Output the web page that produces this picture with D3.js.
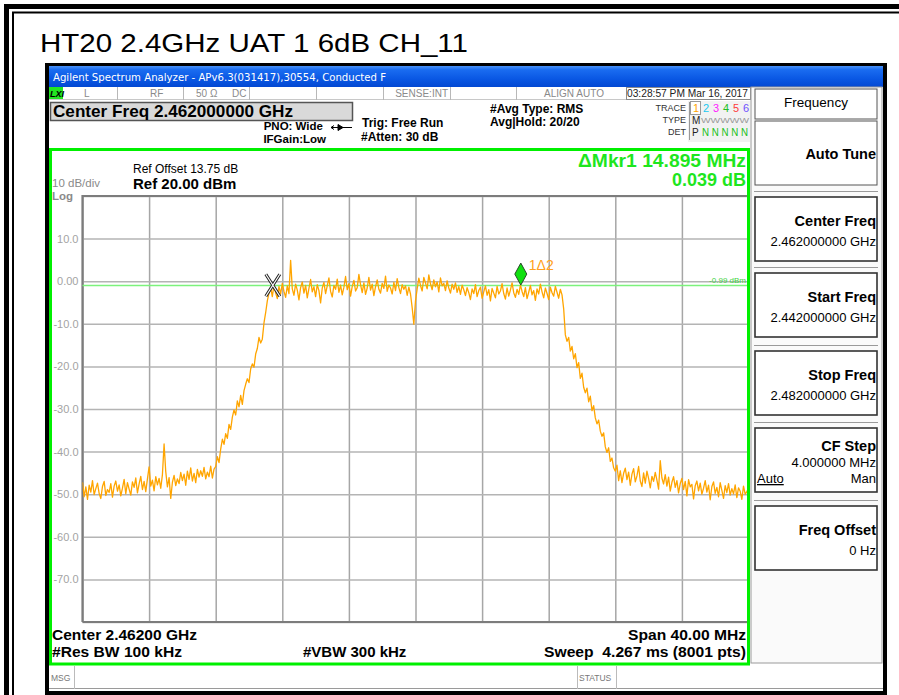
<!DOCTYPE html>
<html><head><meta charset="utf-8">
<script src="https://cdn.jsdelivr.net/npm/d3@7"></script>
<style>
html,body{margin:0;padding:0;background:#fff;}
svg{display:block;font-family:"Liberation Sans",Arial,sans-serif;}
</style></head><body>
<svg id="c" width="899" height="695"></svg>
<script>
// ---- instrument settings and readouts ----
const pageTitle = "HT20 2.4GHz UAT 1 6dB CH_11";
const windowTitle = "Agilent Spectrum Analyzer - APv6.3(031417),30554, Conducted F";
const startMHz = 2442, stopMHz = 2482, stepMHz = 0.1;
const refLevel = 20, bottomLevel = -80;
const xTicksMHz = [2442, 2446, 2450, 2454, 2458, 2462, 2466, 2470, 2474, 2478, 2482];
const yTicks = [20, 10, 0, -10, -20, -30, -40, -50, -60, -70, -80];
const yTickLabels = ["", "10.0", "0.00", "-10.0", "-20.0", "-30.0", "-40.0", "-50.0", "-60.0", "-70.0", ""];

// ---- trace 1 levels (dBm), one per 0.1 MHz from start to stop ----
const traceLowerFloor = [
  -47.2,-50.6,-48.3,-51.2,-47.9,-49.5,-46.8,-50.1,-48.7,-47.4,
  -49.8,-51.0,-48.2,-47.0,-50.3,-48.9,-49.6,-47.5,-50.7,-48.1,
  -46.9,-49.3,-47.8,-50.4,-48.6,-46.5,-49.9,-47.3,-48.8,-50.2,
  -47.1,-48.4,-46.2,-49.7,-47.6,-45.8,-48.9,-47.0,-49.4,-46.4,
  -43.6,-48.1,-46.7,-49.2,-45.9,-47.8,-46.3,-48.6,-45.4,-38.2,
  -44.7,-48.3,-46.1,-51.0,-47.2,-45.6,-48.0,-46.4,-47.5,-44.9,
  -46.8,-45.3,-47.9,-44.6,-46.5,-43.8,-46.9,-45.1,-47.3,-44.2,
  -46.0,-44.5,-45.8,-43.7,-46.4,-44.8,-45.9,-43.4,-46.2,-44.1];
const traceRisingEdge = [
  -43.5,-41.2,-42.6,-39.4,-37.1,-38.3,-35.8,-36.9,-33.6,-34.8,
  -31.9,-30.2,-31.4,-28.1,-29.5,-26.8,-28.9,-25.7,-24.2,-22.9,
  -23.8,-20.6,-19.4,-20.2,-17.1,-15.8,-13.2,-14.5,-13.6,-9.8,
  -7.4,-4.6,-2.8];
const traceInBand = [
  -1.4,-3.6,-0.9,-2.7,-4.1,-1.2,-3.0,-0.5,-2.4,-3.8,
  -1.1,-2.9,4.9,-1.8,-3.3,-0.7,-2.1,-4.4,-1.5,-0.2,
  -2.8,-1.0,-3.9,-1.7,0.4,-2.5,-1.3,-3.6,-0.8,-2.2,
  -5.1,-1.6,-0.3,-2.9,-1.1,0.8,-2.4,-3.7,-1.0,-1.9,
  0.5,-2.6,-0.9,-3.2,-1.4,1.1,-2.0,-0.6,-3.5,-1.2,
  0.2,-2.3,-1.5,1.6,-0.8,-2.7,-0.4,-3.1,-1.6,0.9,
  -2.1,-0.7,-3.4,-1.3,0.3,-1.9,-2.8,-0.5,-1.7,1.2,
  -2.4,-0.9,-1.6,-3.0,-0.3,-2.2,0.6,-1.5,-2.9,-0.8,
  -1.9,-1.1,-3.3,-1.4,-3.0,-6.2,-10.1,-4.6,-1.8,0.7,
  -1.0,-2.3,0.9,-0.4,-1.8,1.5,-0.6,-2.0,0.3,-1.3,
  -0.2,-2.5,0.8,-1.1,-0.5,-2.2,0.1,-1.6,-2.8,-0.7,
  -1.9,-0.4,-2.6,-1.2,-3.1,-0.9,-2.0,-3.4,-1.5,-2.7,
  -4.3,-1.8,-2.9,-0.8,-3.6,-2.2,-1.4,-4.0,-2.5,-1.1,
  -3.3,-2.0,-4.6,-1.7,-2.8,-3.9,-1.2,-3.0,-2.3,-0.6,
  -2.9,-4.2,-1.6,-3.5,-2.1,-0.4,-2.7,-3.8,-1.9,-3.1,
  -0.9,-2.4,-3.6,-1.5,-4.1,-2.6,-1.0,-3.2,-2.2,-4.5,
  -1.8,-3.0,-0.7,-2.5,-3.9,-1.6,-2.9,-4.3,-1.4,-2.7,
  -3.5,-1.2,-2.6,-4.0,-1.9,-3.2,-6.5];
const traceFallingEdge = [
  -12.6,-14.1,-13.2,-16.4,-15.3,-18.2,-17.0,-20.3,-19.1,-22.8,
  -21.6,-24.9,-26.2,-25.1,-28.3,-27.0,-30.4,-29.2,-32.1,-33.5,
  -32.6,-35.2,-36.4,-35.6,-38.9,-40.2,-39.1,-42.3,-41.5,-43.8,
  -44.6];
const traceUpperFloor = [
  -43.2,-46.8,-44.5,-47.3,-45.1,-43.9,-46.6,-44.8,-47.9,-45.3,
  -44.0,-47.1,-45.7,-43.5,-46.9,-48.2,-45.0,-47.4,-44.6,-46.3,
  -48.5,-45.8,-47.0,-44.9,-46.7,-48.8,-42.1,-46.2,-47.6,-45.4,
  -48.1,-46.0,-49.3,-47.2,-45.9,-48.4,-46.8,-49.7,-47.5,-46.3,
  -48.9,-47.0,-50.4,-46.6,-48.3,-47.7,-51.1,-48.0,-46.9,-49.2,
  -47.4,-50.0,-48.6,-46.8,-49.5,-47.9,-51.3,-48.2,-47.1,-49.8,
  -48.4,-50.6,-47.3,-49.1,-51.0,-48.0,-49.6,-47.5,-50.2,-48.7,
  -49.9,-47.8,-50.8,-48.5,-49.3,-51.2,-48.1,-50.0,-49.4,-48.6];

const displayLineDbm = -0.99;
const marker2 = { mhz: 2453.43, db: -0.95 };
const deltaMHz = 14.895, deltaDb = 0.039;

const statusCells = [["L", 84], ["RF", 150], ["50 Ω", 196], ["DC", 232]];
const softkeyTitles = ["Center Freq", "Start Freq", "Stop Freq", "CF Step", "Freq Offset"];
const softkeyValues = ["2.462000000 GHz", "2.442000000 GHz", "2.482000000 GHz", "4.000000 MHz", "0 Hz"];

// ---- drawing ----
const svg = d3.select("#c");
const traceDb = [].concat(traceLowerFloor, traceRisingEdge, traceInBand, traceFallingEdge, traceUpperFloor);
const trace = traceDb.map((v, i) => ({ mhz: startMHz + i * stepMHz, db: v }));

const x = d3.scaleLinear().domain([startMHz, stopMHz]).range([82.5, 748.5]);
const y = d3.scaleLinear().domain([bottomLevel, refLevel]).range([622, 196]);

function text(g, px, py, str, o = {}) {
  const t = g.append("text").attr("x", px).attr("y", py).text(str)
    .attr("font-size", o.size || 12)
    .attr("fill", o.fill || "#000")
    .attr("font-weight", o.bold ? "bold" : "normal")
    .attr("text-anchor", o.anchor || "start");
  if (o.family) t.attr("font-family", o.family);
  if (o.len) t.attr("textLength", o.len).attr("lengthAdjust", "spacingAndGlyphs");
  return t;
}

// page frame
svg.append("rect").attr("x", 0).attr("y", 0).attr("width", 899).attr("height", 695).attr("fill", "#fff");
svg.append("path").attr("d", "M6.5,695 V6.5 H899").attr("fill", "none").attr("stroke", "#000").attr("stroke-width", 5);
svg.append("path").attr("d", "M13,695 V12.5 H899").attr("fill", "none").attr("stroke", "#000").attr("stroke-width", 2);
text(svg, 40, 52, pageTitle, { size: 26, len: 428 });

// analyzer window
svg.append("rect").attr("x", 45).attr("y", 63).attr("width", 842).attr("height", 640).attr("fill", "#000");
svg.append("rect").attr("x", 49).attr("y", 66).attr("width", 834).attr("height", 625).attr("fill", "#fff");
const grad = svg.append("defs").append("linearGradient").attr("id", "tb").attr("x1", 0).attr("x2", 0).attr("y1", 0).attr("y2", 1);
[["0%", "#4a92f6"], ["18%", "#1a6cf0"], ["60%", "#0a58e4"], ["100%", "#0348d2"]].forEach(s =>
  grad.append("stop").attr("offset", s[0]).attr("stop-color", s[1]));
svg.append("rect").attr("x", 49).attr("y", 66).attr("width", 834).attr("height", 21).attr("fill", "url(#tb)");
text(svg, 53, 81, windowTitle, { size: 11, fill: "#fff", family: "DejaVu Sans", len: 333 });

// status row
const sr = svg.append("g");
sr.append("rect").attr("x", 49).attr("y", 87).attr("width", 703).attr("height", 12).attr("fill", "#fff");
sr.append("line").attr("x1", 49).attr("x2", 752).attr("y1", 99.5).attr("y2", 99.5).attr("stroke", "#c8c8c8");
[117, 183, 249, 316, 383, 450, 516, 626].forEach(d =>
  sr.append("line").attr("x1", d + 0.5).attr("x2", d + 0.5).attr("y1", 87).attr("y2", 100).attr("stroke", "#b8b8b8"));
sr.append("rect").attr("x", 626.5).attr("y", 87.5).attr("width", 124).attr("height", 12).attr("fill", "none").attr("stroke", "#8c8c8c");
sr.append("rect").attr("x", 49).attr("y", 87).attr("width", 14).attr("height", 12).attr("fill", "#22e622");
text(sr, 50, 97, "LXI", { size: 9, bold: true }).attr("font-style", "italic");
statusCells.forEach(c => text(sr, c[1], 97, c[0], { size: 10, fill: "#8a8a8a" }));
text(sr, 448, 97, "SENSE:INT", { size: 10, fill: "#8a8a8a", anchor: "end" });
text(sr, 574, 97, "ALIGN AUTO", { size: 10, fill: "#8a8a8a", anchor: "middle" });
text(sr, 627, 97, "03:28:57 PM Mar 16, 2017", { size: 10.5, fill: "#222", len: 121 });

// settings block
const sb = svg.append("g");
sb.append("rect").attr("x", 50.5).attr("y", 102.5).attr("width", 302).attr("height", 18).attr("fill", "#d9d9d9").attr("stroke", "#555").attr("stroke-width", 1.5);
text(sb, 53, 117, "Center Freq 2.462000000 GHz", { size: 17, bold: true, len: 240 });
text(sb, 323, 130, "PNO: Wide", { size: 11.5, bold: true, anchor: "end" });
sb.append("path").attr("d", "M331,127.5 H352 M331,127.5 l3,-2 M331,127.5 l3,2 M338,124.5 l5,3 l-5,3 Z").attr("stroke", "#000").attr("fill", "#000").attr("stroke-width", 1);
text(sb, 326, 142.5, "IFGain:Low", { size: 11.5, bold: true, anchor: "end" });
text(sb, 362, 126.5, "Trig: Free Run", { size: 12, bold: true });
text(sb, 361, 141, "#Atten: 30 dB", { size: 12, bold: true });
text(sb, 490, 112.5, "#Avg Type: RMS", { size: 12, bold: true });
text(sb, 490, 126, "Avg|Hold: 20/20", { size: 12, bold: true });

// trace table
const tt = svg.append("g");
tt.append("rect").attr("x", 688).attr("y", 101).attr("width", 62).attr("height", 41).attr("fill", "#f2f2f2");
text(tt, 686, 111, "TRACE", { size: 9, fill: "#333", anchor: "end" });
text(tt, 686, 123, "TYPE", { size: 9, fill: "#333", anchor: "end" });
text(tt, 686, 135, "DET", { size: 9, fill: "#333", anchor: "end" });
tt.append("line").attr("x1", 689.5).attr("x2", 689.5).attr("y1", 102).attr("y2", 140).attr("stroke", "#999");
tt.append("rect").attr("x", 690.5).attr("y", 101.5).attr("width", 10).attr("height", 13).attr("fill", "#fff").attr("stroke", "#999");
const traceNumColors = ["#ffa500", "#18c8f0", "#ff20ff", "#20c020", "#ff3a3a", "#7050ff"];
traceNumColors.forEach((c, i) => text(tt, 696 + i * 10, 112, String(i + 1), { size: 11, fill: c, anchor: "middle" }));
text(tt, 692, 124, "M", { size: 10, fill: "#222" });
text(tt, 701, 123, "WWWWW", { size: 7, fill: "#999", len: 48 });
text(tt, 692, 136, "P", { size: 10, fill: "#222" });
text(tt, 702, 136, "N N N N N", { size: 10, fill: "#20c020", len: 46 });

// softkey panel
const sk = svg.append("g");
sk.append("rect").attr("x", 751).attr("y", 87).attr("width", 131).attr("height", 576).attr("fill", "#fafafa").attr("stroke", "#9a9a9a");
sk.append("rect").attr("x", 755).attr("y", 89).attr("width", 122).attr("height", 30).attr("fill", "#fff").attr("stroke", "#555");
text(sk, 816, 107, "Frequency", { size: 13.5, anchor: "middle" });
sk.append("rect").attr("x", 755).attr("y", 121).attr("width", 122).attr("height", 64).attr("fill", "#fff").attr("stroke", "#555");
text(sk, 876, 159, "Auto Tune", { size: 14.5, bold: true, anchor: "end" });
const boxTops = [197, 273, 351, 428, 506];
boxTops.forEach((top, i) => {
  sk.append("line").attr("x1", 754).attr("x2", 878).attr("y1", top - 5.5).attr("y2", top - 5.5).attr("stroke", "#9a9a9a");
  sk.append("rect").attr("x", 755).attr("y", top).attr("width", 122).attr("height", 64).attr("fill", "#fff")
    .attr("stroke", "#333").attr("stroke-width", 1.6);
  const titleY = i === 3 ? top + 23 : top + 29;
  text(sk, 876, titleY, softkeyTitles[i], { size: 14.5, bold: true, anchor: "end" });
  text(sk, 876, titleY + (i === 3 ? 16 : 20), softkeyValues[i], { size: 13, anchor: "end" });
});
text(sk, 757, 483, "Auto", { size: 13 }).attr("text-decoration", "underline");
text(sk, 876, 483, "Man", { size: 13, anchor: "end" });

// message bar
const mb = svg.append("g");
mb.append("rect").attr("x", 49).attr("y", 666).attr("width", 834).attr("height", 23).attr("fill", "#fff");
mb.append("line").attr("x1", 49).attr("x2", 883).attr("y1", 688.5).attr("y2", 688.5).attr("stroke", "#9a9a9a");
[74.5, 577.5, 616.5].forEach(d => mb.append("line").attr("x1", d).attr("x2", d).attr("y1", 666).attr("y2", 689).attr("stroke", "#bbb"));
text(mb, 51, 681, "MSG", { size: 8.5, fill: "#777" });
text(mb, 579, 681, "STATUS", { size: 8.5, fill: "#777" });

// plot annotations
const an = svg.append("g");
text(an, 133, 172.5, "Ref Offset 13.75 dB", { size: 12 });
text(an, 133, 188.5, "Ref 20.00 dBm", { size: 15, bold: true });
text(an, 52, 187, "10 dB/div", { size: 11.5, fill: "#8a8a8a" });
text(an, 52, 199.5, "Log", { size: 11.5, bold: true, fill: "#8a8a8a" });
text(an, 746, 167, "ΔMkr1 " + deltaMHz.toFixed(3) + " MHz", { size: 18, bold: true, fill: "#1ee61e", anchor: "end", len: 168 });
text(an, 746, 186, deltaDb.toFixed(3) + " dB", { size: 18, bold: true, fill: "#1ee61e", anchor: "end" });
text(an, 52, 639.5, "Center 2.46200 GHz", { size: 15, bold: true, len: 145 });
text(an, 52, 656.5, "#Res BW 100 kHz", { size: 15, bold: true, len: 130 });
text(an, 303, 656.5, "#VBW 300 kHz", { size: 15, bold: true });
text(an, 746, 639.5, "Span 40.00 MHz", { size: 15, bold: true, anchor: "end", len: 118 });
text(an, 746, 656.5, "Sweep  4.267 ms (8001 pts)", { size: 15, bold: true, anchor: "end", len: 202 }).attr("xml:space", "preserve");

// graticule
const grid = svg.append("g");
grid.append("g").attr("transform", "translate(0,622)")
  .call(d3.axisBottom(x).tickValues(xTicksMHz).tickSize(426).tickFormat(""))
  .call(g => g.select(".domain").remove())
  .call(g => g.selectAll(".tick line").attr("y2", -426).attr("stroke", "#a6a6a6").attr("stroke-width", 1.5));
grid.append("g").attr("transform", "translate(82.5,0)")
  .call(d3.axisLeft(y).tickValues(yTicks).tickSize(0).tickPadding(4).tickFormat((d, i) => yTickLabels[i]))
  .call(g => g.select(".domain").remove())
  .call(g => g.selectAll(".tick line").attr("x2", 666).attr("stroke", "#b4b4b4").attr("stroke-width", 1.5))
  .call(g => g.selectAll(".tick text").attr("fill", "#a3a3a3").attr("font-size", 11)
    .attr("font-family", "Liberation Sans, Arial, sans-serif"));
grid.append("path").attr("d", `M${x(startMHz)},${y(bottomLevel)} V${y(refLevel)} H${x(stopMHz)} M${x(startMHz)},${y(bottomLevel)} H${x(stopMHz)}`)
  .attr("fill", "none").attr("stroke", "#7c7c7c").attr("stroke-width", 2.2);

// display line
svg.append("line").attr("x1", x(startMHz)).attr("x2", x(stopMHz)).attr("y1", y(displayLineDbm)).attr("y2", y(displayLineDbm))
  .attr("stroke", "#7cf27c").attr("stroke-width", 1.5);
text(svg, 746, y(displayLineDbm) - 2.5, displayLineDbm.toFixed(2) + " dBm", { size: 8, fill: "#3cd23c", anchor: "end" });

// trace
svg.append("defs").append("clipPath").attr("id", "pc").append("rect")
  .attr("x", x(startMHz)).attr("y", y(refLevel)).attr("width", x(stopMHz) - x(startMHz)).attr("height", y(bottomLevel) - y(refLevel));
svg.append("path").datum(trace).attr("clip-path", "url(#pc)")
  .attr("d", d3.line().x(d => x(d.mhz)).y(d => y(d.db)))
  .attr("fill", "none").attr("stroke", "#ffa500").attr("stroke-width", 1.3).attr("stroke-linejoin", "round");

// markers
const m1 = { mhz: marker2.mhz + deltaMHz, db: marker2.db + deltaDb };
const mx2 = x(marker2.mhz), my2 = y(marker2.db);
const xMark = `M${mx2 - 7},${my2 - 11} L${mx2 + 7},${my2 + 11} M${mx2 + 7},${my2 - 11} L${mx2 - 7},${my2 + 11}`;
svg.append("path").attr("d", xMark).attr("stroke", "#222").attr("stroke-width", 3.2).attr("fill", "none");
svg.append("path").attr("d", xMark).attr("stroke", "#fff").attr("stroke-width", 1.2).attr("fill", "none");
const mx1 = x(m1.mhz), my1 = y(m1.db);
svg.append("path").attr("d", `M${mx1},${my1} L${mx1 + 6},${my1 - 11} L${mx1},${my1 - 22} L${mx1 - 6},${my1 - 11} Z`)
  .attr("fill", "#10e010").attr("stroke", "#2a4a2a").attr("stroke-width", 1);
text(svg, mx1 + 8, my1 - 15.5, "1Δ2", { size: 14, fill: "#ffa020" });

// plot frame
svg.append("rect").attr("x", 50.5).attr("y", 149.5).attr("width", 698).attr("height", 514.5)
  .attr("fill", "none").attr("stroke", "#00f000").attr("stroke-width", 3);
</script>
</body></html>
